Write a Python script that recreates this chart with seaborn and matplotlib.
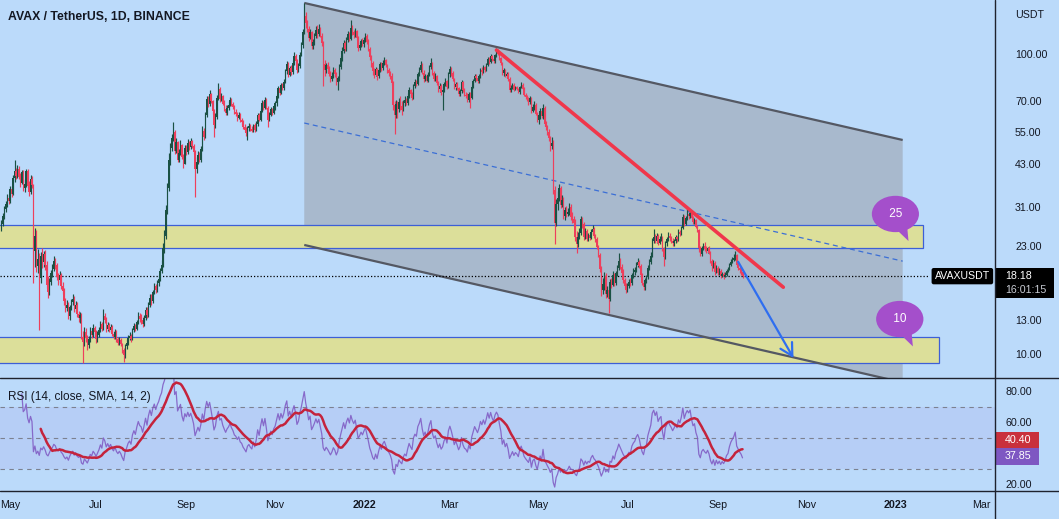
import numpy as np
import pandas as pd
import matplotlib
matplotlib.use("Agg")
import matplotlib.pyplot as plt
import seaborn as sns
from matplotlib.lines import Line2D
from matplotlib.patches import Polygon, Rectangle
from matplotlib.ticker import NullLocator, NullFormatter
from matplotlib.transforms import Bbox, blended_transform_factory

# ------------------------------------------------------------------ data
start_date = "2021-04-27"
first_open = 26.4

close_2021 = [
    27.2, 28.9, 30.4, 31.6,
    33.0, 32.4, 35.5, 34.2, 38.6, 40.8, 39.2, 41.5, 39.0, 37.2, 40.3, 35.8, 36.9, 40.6, 36.4, 34.8,
    38.2, 36.5, 22.0, 24.8, 19.6, 20.8, 17.9, 21.3, 20.2, 21.6, 19.8, 17.0, 16.1, 17.4, 18.6,
    19.2, 20.4, 19.8, 18.1, 17.6, 18.3, 16.9, 16.2, 15.0, 14.2, 14.6, 13.4, 14.3, 14.9, 15.3,
    14.1, 14.6, 13.6, 13.2, 13.5, 11.4, 11.0, 11.8, 11.3, 10.7, 11.2, 11.9, 11.6, 12.2, 11.8,
    11.2, 11.6, 12.0, 12.6, 12.1, 13.4, 13.0, 12.1, 12.5, 12.0, 12.3, 11.7, 11.4, 11.8, 11.2,
    10.9, 11.1, 10.8, 10.3, 9.9, 10.6, 10.9, 11.3, 11.5, 11.2, 12.0, 12.4, 12.1, 12.8, 13.4, 13.1,
    13.0, 12.6, 13.2, 14.0, 13.5, 14.6, 15.4, 15.0, 16.1, 16.8, 16.4, 17.2, 17.8, 18.9, 19.8,
    22.6, 24.8, 30.2, 35.8, 44.5, 48.6, 52.4, 55.0, 47.6, 50.8, 44.2, 46.9, 49.8, 45.3, 43.1, 48.5,
    47.2, 50.6, 48.9, 51.2, 49.4, 47.0, 41.5, 43.8, 46.2, 44.5, 48.3, 55.6, 53.0, 62.4, 70.8,
    68.2, 73.5, 69.6, 64.8, 58.2, 61.5, 71.2, 76.4, 70.9, 72.6, 68.4, 65.8, 63.5, 66.2, 67.8,
    70.4, 68.1, 66.5, 64.0, 63.2, 61.4, 62.8, 60.1, 59.3, 57.2, 56.0, 54.6, 56.8, 57.5, 56.2,
    55.4, 57.9, 55.8, 58.3, 62.6, 60.4, 64.8, 68.9, 66.2, 70.5, 66.3, 60.2, 62.8, 65.4, 63.7, 66.9,
    68.5, 72.4, 76.8, 74.2, 78.9, 77.0, 80.6, 87.5, 92.3, 85.4, 89.8, 86.9, 93.5, 98.6, 95.0,
    88.4, 91.2, 99.5, 106.8, 118.5, 134.2, 126.5, 121.0, 113.4, 118.6, 106.2, 109.8, 114.5, 120.3, 116.8,
    121.5, 115.2, 108.6, 92.4, 88.6, 91.8, 89.4, 86.1, 82.5, 84.8, 88.2, 85.6, 80.4, 82.9, 90.6,
    96.8, 102.4, 108.9, 104.3, 111.7, 116.2, 112.5, 121.8, 118.0, 115.6, 119.4, 113.2, 104.5, 106.8, 110.2, 108.0,
]
high_2021 = [
    27.9, 29.6, 31.2, 32.4,
    34.1, 34.0, 36.4, 36.2, 39.5, 44.2, 41.6, 42.8, 42.3, 40.1, 41.2, 41.0, 38.4, 41.5, 41.3, 37.6,
    39.4, 39.1, 37.0, 26.4, 25.9, 22.4, 21.8, 21.9, 22.6, 22.0, 22.3, 20.5, 18.2, 17.9, 19.0,
    19.9, 21.2, 20.9, 20.1, 18.6, 18.9, 18.6, 17.4, 16.6, 15.4, 15.1, 14.9, 14.6, 15.2, 15.8,
    15.6, 15.0, 14.9, 13.9, 13.8, 13.7, 11.9, 12.3, 12.2, 11.6, 11.5, 12.3, 12.2, 12.6, 12.4,
    12.0, 11.9, 12.3, 12.9, 12.8, 14.1, 13.7, 13.3, 12.8, 12.7, 12.6, 12.5, 11.9, 12.1, 12.0,
    11.4, 11.4, 11.3, 10.9, 10.5, 10.8, 11.2, 11.6, 11.8, 11.7, 12.2, 12.7, 12.6, 13.0, 13.8, 13.7,
    13.6, 13.3, 13.5, 14.4, 14.3, 14.9, 15.8, 15.9, 16.4, 17.2, 17.1, 17.6, 18.3, 19.4, 20.6,
    23.4, 25.9, 31.5, 37.2, 46.8, 50.4, 54.1, 59.5, 55.8, 52.6, 51.4, 48.2, 51.6, 50.3, 46.4, 49.6,
    49.8, 51.9, 51.4, 52.6, 51.8, 50.2, 47.8, 45.2, 47.4, 47.1, 49.2, 57.4, 56.8, 63.9, 72.6,
    72.4, 75.8, 74.2, 70.5, 65.4, 63.8, 72.9, 79.9, 77.6, 74.1, 73.2, 70.1, 67.4, 67.8, 69.5,
    71.8, 71.2, 69.0, 67.4, 65.6, 64.1, 63.9, 63.5, 61.2, 60.4, 58.3, 57.1, 57.6, 58.9, 58.4,
    57.5, 58.6, 58.8, 59.6, 63.8, 63.4, 65.9, 70.2, 69.8, 71.9, 71.2, 67.0, 63.9, 66.8, 66.1, 67.8,
    69.8, 73.6, 78.2, 77.9, 80.1, 80.3, 82.4, 89.2, 94.6, 93.8, 91.4, 91.6, 95.2, 101.3, 99.8,
    96.2, 93.5, 101.2, 109.4, 121.6, 148.0, 138.5, 129.4, 123.8, 121.2, 119.8, 112.4, 117.2, 123.6, 124.8,
    126.2, 123.4, 117.6, 110.2, 95.8, 93.6, 94.2, 91.0, 87.8, 86.9, 90.4, 89.6, 87.2, 84.6, 92.4,
    98.5, 105.2, 111.4, 110.6, 114.2, 118.9, 118.3, 129.8, 124.6, 120.4, 121.8, 120.6, 114.8, 109.5, 112.6, 113.1,
]
low_2021 = [
    25.8, 26.7, 28.3, 29.7,
    30.8, 31.6, 31.9, 33.4, 33.8, 37.5, 38.2, 38.6, 38.4, 36.1, 36.8, 34.9, 34.6, 36.0, 35.8, 33.6,
    34.2, 35.8, 17.2, 19.5, 18.8, 18.6, 12.0, 17.2, 19.4, 19.5, 19.1, 16.6, 15.4, 15.7, 17.0,
    18.1, 18.9, 19.2, 17.6, 17.0, 17.2, 16.5, 15.8, 14.6, 13.8, 13.9, 13.1, 13.0, 14.0, 14.6,
    13.8, 13.8, 13.3, 12.8, 12.7, 11.2, 9.3, 10.6, 11.0, 10.3, 10.5, 11.0, 11.3, 11.4, 11.5,
    10.9, 11.0, 11.4, 11.8, 11.9, 12.0, 12.7, 11.8, 11.9, 11.8, 11.8, 11.5, 11.2, 11.2, 11.0,
    10.7, 10.7, 10.6, 10.1, 9.4, 9.7, 10.4, 10.7, 11.1, 11.0, 11.1, 11.8, 11.9, 12.0, 12.6, 12.8,
    12.6, 12.3, 12.4, 13.0, 13.2, 13.3, 14.3, 14.6, 14.8, 15.8, 16.0, 16.1, 16.9, 17.5, 18.6,
    19.5, 21.8, 24.2, 29.4, 34.9, 42.6, 47.5, 51.2, 46.3, 46.8, 43.5, 43.6, 46.2, 44.6, 41.8, 42.9,
    46.1, 46.5, 48.0, 48.2, 48.6, 46.3, 33.4, 40.2, 43.1, 43.6, 43.8, 47.6, 51.8, 52.4, 61.5,
    66.4, 67.1, 68.5, 63.2, 53.0, 56.9, 60.8, 70.2, 69.4, 69.8, 67.5, 64.6, 62.4, 62.8, 65.1,
    66.9, 67.2, 65.4, 63.1, 62.0, 59.8, 60.6, 59.4, 58.2, 56.4, 55.2, 53.4, 51.8, 55.6, 55.4,
    54.8, 54.9, 55.1, 55.3, 57.6, 59.6, 59.8, 64.1, 65.2, 65.6, 65.4, 57.0, 59.6, 62.1, 62.8, 63.2,
    65.3, 67.2, 71.5, 72.8, 73.5, 75.6, 76.1, 79.8, 85.6, 83.9, 84.2, 85.1, 85.8, 91.6, 93.2,
    86.4, 86.9, 89.6, 98.2, 104.5, 116.2, 122.4, 118.1, 110.6, 111.9, 103.8, 104.2, 107.5, 112.8, 113.4,
    115.2, 113.6, 106.4, 78.0, 84.2, 86.5, 87.1, 84.3, 80.9, 81.6, 83.2, 83.8, 78.6, 76.0, 81.4,
    88.9, 94.6, 100.8, 102.1, 102.6, 109.4, 110.8, 111.6, 115.4, 113.2, 114.1, 111.8, 102.6, 102.9, 105.4, 106.2,
]
close_2022 = [
    111.4, 114.6, 109.8, 104.2, 97.5, 93.2, 87.6, 85.4, 88.9, 84.2, 88.6, 92.4, 89.8, 93.6, 95.2,
    92.0, 88.3, 86.5, 84.2, 80.1, 67.4, 62.8, 68.2, 65.6, 69.4, 67.0, 65.2, 68.8, 70.5, 68.9, 72.6,
    75.8, 73.4, 71.6, 78.2, 80.6, 79.4, 85.8, 88.3, 92.1, 86.6, 82.4, 84.8, 81.6, 85.2,
    90.4, 93.6, 86.2, 82.8, 84.5, 79.8, 76.2, 78.4, 74.6, 75.9, 79.2, 81.4, 77.8, 85.6,
    88.9, 86.2, 82.5, 77.4, 79.6, 76.8, 73.5, 75.2, 80.4, 75.6, 73.2, 72.4, 70.5, 73.8, 71.6,
    77.9, 81.2, 84.6, 83.0, 81.5, 84.2, 88.6, 87.1, 90.3, 88.4, 91.8, 96.5, 94.2, 98.6, 96.3, 94.8,
    99.2, 101.5, 100.4, 96.8, 93.4, 86.2, 88.5, 84.3, 86.0, 82.4, 75.6, 77.2, 78.8, 76.1, 77.4,
    76.5, 74.8, 77.6, 79.1, 76.4, 73.2, 71.8, 70.6, 69.4, 71.2, 64.5, 66.8, 67.4, 63.2, 60.1,
    62.4, 64.8, 62.1, 66.3, 58.6, 57.2, 54.8, 52.6, 49.2, 50.4, 35.2, 27.4, 31.6, 33.2, 35.8,
    31.4, 32.6, 28.9, 30.1, 29.2, 29.8, 31.0, 28.6, 28.2, 27.4, 24.6, 23.2, 24.5, 25.4, 28.2, 27.1,
    24.6, 25.8, 24.2, 24.9, 24.4, 25.6, 26.2, 24.8, 24.1, 22.8, 21.4, 19.2, 16.4, 17.1, 18.2,
    15.9, 16.3, 15.2, 17.4, 17.0, 18.3, 17.2, 18.6, 19.3, 20.4, 19.5, 18.6, 17.6, 16.9, 16.4,
    16.9, 17.4, 17.2, 18.3, 18.8, 19.1, 19.8, 20.2, 19.6, 18.4, 17.3, 16.7, 17.6, 18.0, 19.4,
    20.3, 21.2, 23.8, 24.6, 23.9, 24.8, 23.5, 24.2, 24.6, 22.4, 21.0, 23.4, 24.1, 24.8, 24.3, 23.9,
    23.4, 23.9, 24.5, 24.1, 25.6, 25.2, 26.4, 28.6, 27.2, 28.4, 29.2, 28.9, 29.6, 28.4, 27.5,
    27.9, 26.6, 25.9, 22.5, 21.6, 22.6, 22.9, 22.4, 22.1, 22.5, 21.8, 20.4, 19.6, 20.1, 18.8, 19.4,
    18.6, 18.9, 18.2, 18.5, 18.1, 18.4, 18.9, 19.1, 19.8, 20.3, 20.6, 20.9, 21.4, 19.8, 19.4,
    19.0, 18.7, 18.18,
]
high_2022 = [
    113.6, 117.2, 116.4, 112.3, 105.8, 99.4, 94.6, 89.8, 90.6, 89.7, 89.9, 94.1, 93.8, 95.4, 97.6,
    96.4, 92.8, 89.6, 88.1, 86.3, 81.2, 69.8, 70.4, 69.5, 71.2, 72.4, 69.8, 70.1, 72.3, 71.6, 74.2,
    77.4, 76.6, 74.8, 79.3, 82.4, 81.9, 87.2, 90.6, 95.1, 93.4, 88.2, 86.1, 85.9, 86.8,
    91.6, 97.2, 94.1, 87.9, 86.4, 85.2, 81.3, 80.2, 79.6, 78.4, 80.6, 83.2, 82.1, 87.4,
    91.2, 90.4, 87.6, 83.4, 80.8, 80.4, 77.9, 76.6, 81.9, 81.2, 76.8, 74.6, 73.9, 74.5, 74.8,
    78.6, 82.5, 86.1, 85.8, 84.2, 85.6, 89.9, 90.2, 91.8, 91.4, 93.2, 97.8, 97.6, 100.2, 99.6, 97.4,
    100.4, 104.5, 103.6, 101.8, 97.9, 94.2, 89.6, 89.2, 87.4, 87.1, 83.6, 78.6, 80.2, 79.9, 78.5,
    78.2, 77.3, 78.4, 80.6, 80.1, 77.6, 74.2, 72.9, 71.8, 72.4, 72.1, 67.9, 69.5, 68.6, 64.1,
    63.8, 66.2, 65.9, 68.4, 67.1, 59.8, 58.1, 56.3, 53.4, 52.8, 51.6, 36.4, 32.8, 34.9, 36.8,
    36.2, 33.9, 33.4, 30.9, 31.2, 30.6, 31.8, 31.6, 29.8, 28.9, 28.1, 25.8, 25.6, 26.3, 28.9, 28.6,
    27.6, 26.4, 26.1, 25.3, 25.5, 26.2, 26.9, 26.6, 25.2, 24.5, 23.1, 21.8, 19.6, 17.9, 18.8,
    18.6, 16.9, 16.8, 17.8, 17.9, 18.9, 18.6, 18.9, 19.8, 21.8, 20.9, 19.9, 19.2, 17.9, 17.3,
    17.3, 17.8, 17.9, 18.6, 19.4, 19.5, 20.3, 20.9, 20.6, 19.9, 18.6, 17.6, 17.9, 18.4, 19.8,
    20.8, 21.9, 24.4, 26.2, 25.1, 25.4, 25.2, 24.7, 25.3, 24.8, 22.8, 23.8, 24.6, 25.6, 25.3, 24.7,
    24.3, 24.2, 24.9, 24.8, 26.1, 26.0, 26.8, 29.2, 29.1, 28.9, 30.8, 29.8, 30.2, 29.9, 28.8,
    28.4, 28.3, 26.9, 26.2, 23.0, 22.9, 23.4, 23.6, 22.9, 22.8, 22.9, 22.1, 20.8, 20.6, 20.4, 19.8,
    19.6, 19.3, 19.2, 18.8, 18.7, 18.8, 19.2, 19.5, 20.1, 20.7, 21.0, 21.5, 22.1, 21.6, 20.2,
    19.7, 19.3, 18.9,
]
low_2022 = [
    105.9, 109.6, 107.8, 102.6, 95.2, 90.6, 85.4, 83.1, 84.6, 81.9, 83.4, 87.2, 88.1, 88.4, 92.1,
    90.3, 86.4, 84.6, 82.3, 79.1, 64.9, 54.0, 61.2, 61.4, 64.2, 65.1, 62.8, 64.6, 67.2, 67.4, 67.6,
    71.4, 72.6, 70.2, 70.8, 77.1, 78.2, 78.9, 84.6, 87.1, 85.8, 80.6, 81.5, 80.4, 80.6,
    84.7, 89.2, 85.3, 81.2, 81.6, 78.9, 74.9, 74.6, 73.2, 65.2, 74.8, 78.1, 76.4, 76.9,
    84.1, 84.8, 81.3, 76.2, 75.9, 75.8, 72.4, 72.2, 74.4, 74.6, 72.4, 71.3, 69.2, 69.4, 66.0,
    70.9, 76.8, 80.4, 81.6, 79.8, 80.3, 83.1, 85.4, 86.2, 87.1, 87.6, 91.2, 92.6, 93.1, 95.1, 93.2,
    93.6, 97.8, 98.9, 95.6, 92.1, 85.4, 84.8, 83.6, 83.2, 81.6, 74.9, 74.6, 76.2, 75.4, 75.6,
    75.8, 73.9, 73.6, 76.8, 75.6, 72.4, 71.0, 69.8, 67.6, 68.2, 63.8, 63.9, 65.2, 62.6, 59.4,
    58.6, 60.9, 61.2, 60.8, 57.4, 55.8, 53.6, 51.2, 47.6, 48.1, 34.1, 23.2, 26.8, 30.2, 32.4,
    30.6, 30.8, 28.2, 27.9, 28.6, 28.9, 29.1, 28.0, 27.4, 26.8, 23.9, 21.7, 22.8, 24.1, 25.0, 26.4,
    24.0, 24.1, 23.8, 23.9, 24.0, 24.1, 25.2, 24.3, 23.6, 22.4, 21.0, 18.8, 15.6, 15.8, 16.4,
    15.4, 15.5, 13.7, 15.0, 16.6, 16.8, 16.9, 17.0, 18.2, 19.0, 19.2, 18.3, 17.2, 16.6, 16.0,
    16.1, 16.6, 16.8, 17.0, 17.9, 18.4, 18.8, 19.5, 19.3, 18.1, 17.0, 16.3, 16.4, 17.2, 17.8,
    19.1, 20.0, 21.0, 23.4, 23.4, 23.5, 23.1, 23.2, 23.8, 22.1, 19.6, 20.8, 22.9, 23.8, 23.9, 23.4,
    22.9, 23.0, 23.5, 23.7, 23.9, 24.8, 25.0, 26.1, 26.8, 26.9, 28.0, 28.3, 28.5, 28.1, 27.2,
    27.1, 26.3, 25.6, 21.9, 21.2, 21.3, 22.2, 22.1, 21.8, 21.7, 21.5, 20.1, 18.9, 19.3, 18.4, 18.6,
    18.3, 18.4, 17.9, 18.0, 17.8, 18.0, 18.2, 18.7, 19.0, 19.6, 20.1, 20.4, 20.6, 19.5, 19.0,
    18.6, 18.4, 17.9,
]

price_ticks = [10, 13, 23, 31, 43, 55, 70, 100]
rsi_ticks = [20, 60, 80]
rsi_levels = [30, 50, 70]
month_ticks = ["2021-05-01", "2021-07-01", "2021-09-01", "2021-11-01", "2022-01-01", "2022-03-01",
               "2022-05-01", "2022-07-01", "2022-09-01", "2022-11-01", "2023-01-01", "2023-03-01"]
month_labels = ["May", "Jul", "Sep", "Nov", "2022", "Mar", "May", "Jul", "Sep", "Nov", "2023", "Mar"]
title = "AVAX / TetherUS, 1D, BINANCE"
rsi_title = "RSI (14, close, SMA, 14, 2)"
symbol = "AVAXUSDT"
countdown = "16:01:15"
rsi_last_value = 37.85
rsi_sma_last_value = 40.40

# user drawings (date, price)
channel_upper = [("2021-11-21", 148.0), ("2023-01-06", 51.7)]
channel_lower = [("2021-11-21", 23.1), ("2023-01-06", 8.04)]
channel_mid = [("2021-11-21", 58.9), ("2023-01-06", 20.4)]
trend_red = [("2022-04-02", 103.1), ("2022-10-16", 16.7)]
arrow_blue = [("2022-09-15", 20.3), ("2022-10-23", 9.7)]
zone_upper = ("2021-04-20", "2023-01-20", 22.6, 26.9)
zone_lower = ("2021-04-20", "2023-01-31", 9.33, 11.39)
bubble_text = ["25", "10"]
bubble_center = [("2023-01-01", 29.3), ("2023-01-04", 13.08)]
bubble_tip = [("2023-01-10", 23.8), ("2023-01-13", 10.6)]

# ------------------------------------------------------------------ prep
for nm, a, n in [("close_2021", close_2021, 249), ("high_2021", high_2021, 249), ("low_2021", low_2021, 249),
                 ("close_2022", close_2022, 261), ("high_2022", high_2022, 261), ("low_2022", low_2022, 261)]:
    assert len(a) == n, (nm, len(a))

t0 = pd.Timestamp(start_date)
def dday(s):
    return (pd.Timestamp(s) - t0).days

close = np.array(close_2021 + close_2022, float)
high = np.array(high_2021 + high_2022, float)
low = np.array(low_2021 + low_2022, float)
opn = np.r_[first_open, close[:-1]]
high = np.maximum(high, np.maximum(opn, close))
low = np.minimum(low, np.minimum(opn, close))
days = np.arange(len(close))

s = pd.Series(close)
d = s.diff()
g = d.clip(lower=0).ewm(alpha=1 / 14, adjust=False, min_periods=14).mean()
l = (-d.clip(upper=0)).ewm(alpha=1 / 14, adjust=False, min_periods=14).mean()
rsi = 100 - 100 / (1 + g / l)
rsi_sma = rsi.rolling(14, min_periods=14).mean()
rsi_df = pd.DataFrame({"day": days, "rsi": rsi}).dropna()
sma_df = pd.DataFrame({"day": days, "sma": rsi_sma}).dropna()

# ------------------------------------------------------------------ style
W, H = 1059, 519
BG = "#bbdafa"
TXT = "#131722"
SEP = "#1e222d"
UP = "#1a5144"
DN = "#ee3f5c"
CH = "#a8b9cd"
ZONE = "#dcdf9a"
ZEDGE = "#3d5fd6"
PURPLE = "#a44fcb"

sns.set_theme(style="white", rc={"axes.facecolor": BG, "figure.facecolor": BG})
plt.rcParams["font.family"] = ["Liberation Sans", "DejaVu Sans"]
FS = 7.7

fig = plt.figure(figsize=(W / 100, H / 100), dpi=100)
fig.patch.set_facecolor(BG)

def fx(px):
    return px / W

def fy(py):
    return 1 - py / H

ax = fig.add_axes([0, fy(378), fx(995), 378 / H])
ar = fig.add_axes([0, fy(491), fx(995), 113 / H])
XLIM = (-0.96, 682.4)
for a in (ax, ar):
    a.set_facecolor(BG)
    a.set_xlim(*XLIM)
    for sp in a.spines.values():
        sp.set_visible(False)
    a.tick_params(axis="x", bottom=False, labelbottom=False)

# ---------------- price panel
ax.set_yscale("log")
ax.set_ylim(8.32, 151.4)

cu = [(dday(a), b) for a, b in channel_upper]
cl = [(dday(a), b) for a, b in channel_lower]
cm = [(dday(a), b) for a, b in channel_mid]
ax.add_patch(Polygon([cu[0], cu[1], cl[1], cl[0]], closed=True, fc=CH, ec="none", zorder=1))
for z in (zone_upper, zone_lower):
    x0, x1 = dday(z[0]), dday(z[1])
    ax.add_patch(Rectangle((x0, z[2]), x1 - x0, z[3] - z[2], fc=ZONE, ec=ZEDGE, lw=0.9, zorder=2))
ax.plot([p[0] for p in cu], [p[1] for p in cu], color="#545863", lw=1.6, zorder=3, solid_capstyle="butt")
ax.plot([p[0] for p in cl], [p[1] for p in cl], color="#545863", lw=1.6, zorder=3, solid_capstyle="butt")
ax.plot([p[0] for p in cm], [p[1] for p in cm], color="#3b6fd6", lw=0.9, ls=(0, (4, 3)), zorder=3)

ax.axhline(close[-1], xmin=0, xmax=929 / 995, color="black", lw=0.9, ls=(0, (1, 1.6)), zorder=3)

col = np.where(close >= opn, UP, DN)
ax.vlines(days, low, high, colors=col, lw=0.85, zorder=4)
ax.bar(days, np.abs(close - opn), bottom=np.minimum(opn, close), width=0.9, color=col, lw=0, zorder=4)

tr = [(dday(a), b) for a, b in trend_red]
ax.plot([p[0] for p in tr], [p[1] for p in tr], color="#f0374b", lw=2.6, zorder=5, solid_capstyle="round")
ab = [(dday(a), b) for a, b in arrow_blue]
ax.annotate("", xy=ab[1], xytext=ab[0],
            arrowprops=dict(arrowstyle="->,head_length=0.55,head_width=0.3", color="#2f6ef0",
                            lw=1.6, shrinkA=0, shrinkB=0, mutation_scale=16), zorder=5)

for t, c, tip in zip(bubble_text, bubble_center, bubble_tip):
    ax.annotate(" " + t + " ", xy=(dday(tip[0]), tip[1]), xytext=(dday(c[0]), c[1]),
                ha="center", va="center", color="white", fontsize=8.5, zorder=6,
                bbox=dict(boxstyle="ellipse,pad=0.58", fc=PURPLE, ec="none"),
                arrowprops=dict(arrowstyle="wedge,tail_width=1.9,shrink_factor=0.5", fc=PURPLE,
                                ec="none", shrinkA=0, shrinkB=0, patchA=None))

ax.yaxis.tick_right()
ax.yaxis.set_minor_locator(NullLocator())
ax.yaxis.set_minor_formatter(NullFormatter())
ax.set_yticks(price_ticks)
ax.set_yticklabels([f"{v:.2f}" for v in price_ticks])
ax.tick_params(axis="y", length=0, pad=14.4, labelsize=FS, colors=TXT)

# ---------------- RSI panel
ar.set_ylim(15.5, 88.4)
ar.axhspan(30, 70, color="#8a6bd6", alpha=0.1, lw=0, zorder=0)
for v in rsi_levels:
    ar.axhline(v, color="#7c8190", lw=0.8, ls=(0, (4, 4)), zorder=1)
sns.lineplot(data=rsi_df, x="day", y="rsi", ax=ar, color="#7e57c2", lw=0.9, alpha=0.85,
             estimator=None, legend=False, zorder=2)
sns.lineplot(data=sma_df, x="day", y="sma", ax=ar, color="#c4233c", lw=1.8, estimator=None,
             legend=False, zorder=3)
ar.set_xlabel("")
ar.set_ylabel("")
ar.set_xlim(*XLIM)
ar.yaxis.tick_right()
ar.set_yticks(rsi_ticks)
ar.set_yticklabels([f"{v:.2f}" for v in rsi_ticks])
ar.tick_params(axis="y", length=0, pad=7.2, labelsize=FS, colors=TXT)
ar.tick_params(axis="x", bottom=False, labelbottom=False)

# date labels (first one kept inside the left edge)
bt = blended_transform_factory(ar.transData, fig.transFigure)
clip = Bbox.from_extents(0, 0, 995, H)
for k, (dstr, lab) in enumerate(zip(month_ticks, month_labels)):
    bold = lab.isdigit()
    if k == 0:
        fig.text(fx(0.5), fy(505), lab, ha="left", va="center", fontsize=FS, color=TXT)
        continue
    tt = ar.text(dday(dstr), fy(505), lab, transform=bt, ha="center", va="center", fontsize=FS,
                 color=TXT, fontweight="bold" if bold else "normal")
    tt.set_clip_on(True)
    tt.set_clip_box(clip)

# ---------------- texts and badges
fig.text(fx(8), fy(17), title, ha="left", va="center", fontsize=8.8, fontweight="bold", color=TXT)
fig.text(fx(8), fy(397), rsi_title, ha="left", va="center", fontsize=8.5, color=TXT)
fig.text(fx(1015), fy(15), "USDT", ha="left", va="center", fontsize=FS, color=TXT)

fig.canvas.draw()
py_price = H - ax.transData.transform((0, close[-1]))[1]
fig.text(fx(990), fy(py_price), symbol, ha="right", va="center", fontsize=7.6, color="white",
         bbox=dict(boxstyle="round,pad=0.3,rounding_size=0.2", fc="black", ec="none"))
fig.add_artist(Rectangle((fx(996), fy(py_price + 22)), fx(58), 30 / H, transform=fig.transFigure,
                         fc="black", ec="none"))
fig.text(fx(1005), fy(py_price), f"{close[-1]:.2f}", ha="left", va="center", fontsize=FS, color="white")
fig.text(fx(1005), fy(py_price + 14), countdown, ha="left", va="center", fontsize=FS, color="#c9ccd4")

py_rsi = H - ar.transData.transform((0, rsi_last_value))[1]
py_sma = py_rsi - 16.5
for val, pyy, fc in [(rsi_sma_last_value, py_sma, "#c9303c"), (rsi_last_value, py_rsi, "#7e57c2")]:
    fig.add_artist(Rectangle((fx(996), fy(pyy + 8.3)), fx(43), 16.5 / H, transform=fig.transFigure,
                             fc=fc, ec="none"))
    fig.text(fx(1005), fy(pyy), f"{val:.2f}", ha="left", va="center", fontsize=FS, color="white")

# separators
fig.add_artist(Line2D([0, 1], [fy(378), fy(378)], transform=fig.transFigure, color=SEP, lw=1))
fig.add_artist(Line2D([0, 1], [fy(491), fy(491)], transform=fig.transFigure, color=SEP, lw=1))
fig.add_artist(Line2D([fx(995), fx(995)], [0, 1], transform=fig.transFigure, color=SEP, lw=1))

fig.savefig("out.png", dpi=100, facecolor=BG)
